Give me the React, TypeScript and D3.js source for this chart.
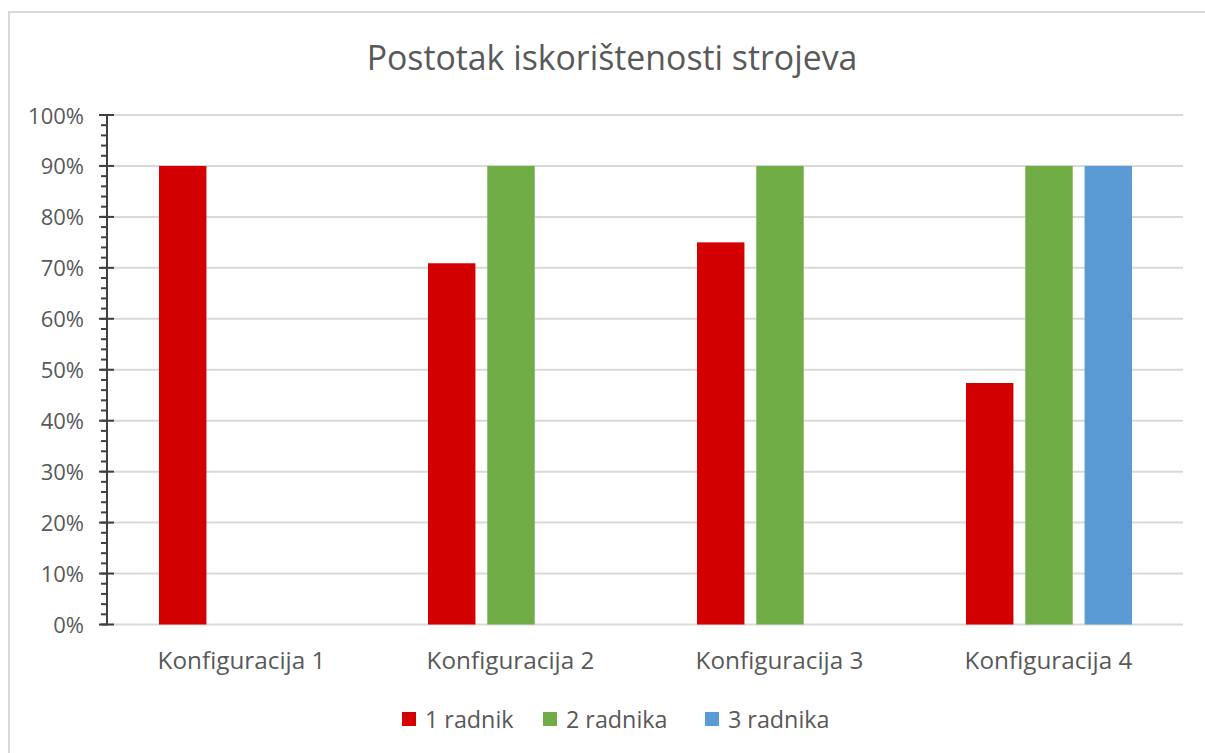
import React, { useEffect, useRef } from 'react';
import * as d3 from 'd3';

const categories = ['Konfiguracija 1', 'Konfiguracija 2', 'Konfiguracija 3', 'Konfiguracija 4'];
const seriesNames = ['1 radnik', '2 radnika', '3 radnika'];
const seriesColors = ['#d20000', '#70ad47', '#5b9bd5'];
// null = no bar for that configuration
const radnik1 = [0.9, 0.709, 0.75, 0.474];
const radnika2 = [null, 0.9, 0.9, 0.9];
const radnika3 = [null, null, null, 0.9];
const yTicks = [0, 0.1, 0.2, 0.3, 0.4, 0.5, 0.6, 0.7, 0.8, 0.9, 1];

const W = 1205;
const H = 753;
const FONT = '"Open Sans", sans-serif';
const TEXT = '#595959';

const App = () => {
  const ref = useRef(null);

  useEffect(() => {
    const root = d3.select(ref.current);
    root.selectAll('*').remove();
    document.body.style.margin = '0';

    const svg = root.append('svg').attr('width', W).attr('height', H).style('display', 'block');
    svg.append('rect').attr('width', W).attr('height', H).attr('fill', '#fff');
    svg.append('rect')
      .attr('x', 9).attr('y', 12).attr('width', W + 10).attr('height', H + 10)
      .attr('fill', 'none').attr('stroke', '#d9d9d9').attr('stroke-width', 2);

    const left = 107, right = 1183, top = 115, bottom = 624.5;

    const x0 = d3.scaleBand().domain(categories).range([left, right]);
    const x1 = d3.scaleBand().domain(seriesNames).range([52, 218]).paddingInner(0.2);
    const y = d3.scaleLinear().domain([0, 1]).range([bottom, top]);

    svg.append('text')
      .attr('x', 612).attr('y', 70)
      .attr('text-anchor', 'middle')
      .style('font-family', FONT).style('font-size', '33.8px').attr('fill', TEXT)
      .text('Postotak iskorištenosti strojeva');

    // gridlines
    svg.append('g').selectAll('line').data(yTicks).enter().append('line')
      .attr('x1', left).attr('x2', right)
      .attr('y1', (d) => y(d)).attr('y2', (d) => y(d))
      .attr('stroke', '#d9d9d9').attr('stroke-width', 2);

    // bars
    const all = [radnik1, radnika2, radnika3];
    const g = svg.append('g');
    categories.forEach((c, ci) => {
      seriesNames.forEach((s, si) => {
        const v = all[si][ci];
        if (v == null) return;
        g.append('rect')
          .attr('x', x0(c) + x1(s))
          .attr('y', y(v))
          .attr('width', x1.bandwidth())
          .attr('height', y(0) - y(v))
          .attr('fill', seriesColors[si]);
      });
    });

    // y axis
    const axis = svg.append('g');
    axis.append('line')
      .attr('x1', left).attr('x2', left).attr('y1', top - 1).attr('y2', bottom + 1)
      .attr('stroke', '#404040').attr('stroke-width', 2);
    const minor = d3.range(0, 1.0001, 0.02);
    axis.selectAll('line.minor').data(minor).enter().append('line')
      .attr('class', 'minor')
      .attr('x1', left - 6).attr('x2', left)
      .attr('y1', (d) => y(d)).attr('y2', (d) => y(d))
      .attr('stroke', '#404040').attr('stroke-width', 2);
    axis.selectAll('line.major').data(yTicks).enter().append('line')
      .attr('class', 'major')
      .attr('x1', left - 8).attr('x2', left + 7)
      .attr('y1', (d) => y(d)).attr('y2', (d) => y(d))
      .attr('stroke', '#404040').attr('stroke-width', 2);
    axis.selectAll('text').data(yTicks).enter().append('text')
      .attr('x', 84).attr('y', (d) => y(d) + 8.5)
      .attr('text-anchor', 'end')
      .style('font-family', FONT).style('font-size', '22px').attr('fill', TEXT)
      .text((d) => d3.format('.0%')(d));

    // category labels
    svg.append('g').selectAll('text').data(categories).enter().append('text')
      .attr('x', (d) => x0(d) + x0.bandwidth() / 2)
      .attr('y', 669)
      .attr('text-anchor', 'middle')
      .style('font-family', FONT).style('font-size', '24.3px').attr('fill', TEXT)
      .text((d) => d);

    // legend
    const legendX = [402, 543, 705];
    const leg = svg.append('g');
    seriesNames.forEach((s, i) => {
      leg.append('rect').attr('x', legendX[i]).attr('y', 712).attr('width', 14).attr('height', 14)
        .attr('fill', seriesColors[i]);
      leg.append('text').attr('x', legendX[i] + 23).attr('y', 728)
        .style('font-family', FONT).style('font-size', '23.3px').attr('fill', TEXT)
        .text(s);
    });
  }, []);

  return <div ref={ref}></div>;
};

export default App;
